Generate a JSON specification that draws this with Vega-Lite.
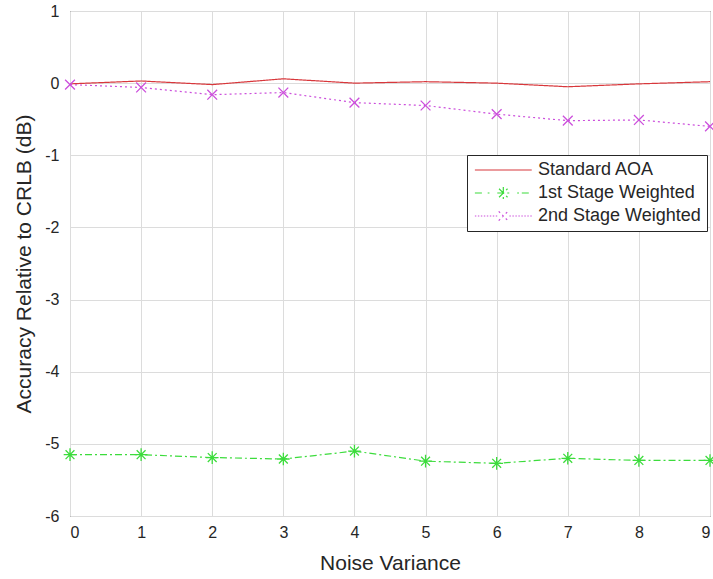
{
  "$schema": "https://vega.github.io/schema/vega-lite/v6.json",
  "width": 640,
  "height": 505,
  "autosize": {"type": "none"},
  "padding": {"left": 70, "top": 11, "right": 3, "bottom": 63},
  "background": "white",
  "config": {
    "font": "Liberation Sans",
    "view": {"stroke": "#262626", "strokeWidth": 1},
    "axis": {
      "domain": false,
      "gridColor": "#dcdcdc",
      "gridWidth": 1,
      "ticks": false,
      "labelColor": "#262626",
      "labelFontSize": 16,
      "titleColor": "#262626",
      "titleFontWeight": "normal",
      "labelExpr": "replace(datum.label, '−', '-')"
    },
    "legend": {
      "orient": "none",
      "legendX": 397,
      "legendY": 144,
      "symbolSize": 202,
      "symbolStrokeWidth": 1.2,
      "labelFontSize": 18,
      "labelColor": "#262626",
      "labelLimit": 300,
      "padding": 6,
      "rowPadding": 5,
      "labelOffset": 47,
      "fillColor": "white",
      "strokeColor": "#262626"
    }
  },
  "data": {
    "values": [
      {"x": 0, "y": -0.01, "series": "Standard AOA"},
      {"x": 1, "y": 0.03, "series": "Standard AOA"},
      {"x": 2, "y": -0.02, "series": "Standard AOA"},
      {"x": 3, "y": 0.06, "series": "Standard AOA"},
      {"x": 4, "y": 0.0, "series": "Standard AOA"},
      {"x": 5, "y": 0.02, "series": "Standard AOA"},
      {"x": 6, "y": 0.0, "series": "Standard AOA"},
      {"x": 7, "y": -0.05, "series": "Standard AOA"},
      {"x": 8, "y": -0.01, "series": "Standard AOA"},
      {"x": 9, "y": 0.02, "series": "Standard AOA"},
      {"x": 0, "y": -5.15, "series": "1st Stage Weighted"},
      {"x": 1, "y": -5.15, "series": "1st Stage Weighted"},
      {"x": 2, "y": -5.19, "series": "1st Stage Weighted"},
      {"x": 3, "y": -5.21, "series": "1st Stage Weighted"},
      {"x": 4, "y": -5.1, "series": "1st Stage Weighted"},
      {"x": 5, "y": -5.24, "series": "1st Stage Weighted"},
      {"x": 6, "y": -5.27, "series": "1st Stage Weighted"},
      {"x": 7, "y": -5.2, "series": "1st Stage Weighted"},
      {"x": 8, "y": -5.23, "series": "1st Stage Weighted"},
      {"x": 9, "y": -5.23, "series": "1st Stage Weighted"},
      {"x": 0, "y": -0.02, "series": "2nd Stage Weighted"},
      {"x": 1, "y": -0.06, "series": "2nd Stage Weighted"},
      {"x": 2, "y": -0.16, "series": "2nd Stage Weighted"},
      {"x": 3, "y": -0.13, "series": "2nd Stage Weighted"},
      {"x": 4, "y": -0.27, "series": "2nd Stage Weighted"},
      {"x": 5, "y": -0.31, "series": "2nd Stage Weighted"},
      {"x": 6, "y": -0.43, "series": "2nd Stage Weighted"},
      {"x": 7, "y": -0.52, "series": "2nd Stage Weighted"},
      {"x": 8, "y": -0.51, "series": "2nd Stage Weighted"},
      {"x": 9, "y": -0.6, "series": "2nd Stage Weighted"}
    ]
  },
  "encoding": {
    "x": {
      "field": "x", "type": "quantitative",
      "scale": {"domain": [0, 9], "nice": false, "zero": false},
      "axis": {"values": [0,1,2,3,4,5,6,7,8,9], "title": "Noise Variance", "labelPadding": 8, "titleFontSize": 21, "titlePadding": 12}
    },
    "y": {
      "field": "y", "type": "quantitative",
      "scale": {"domain": [-6, 1], "nice": false},
      "axis": {"values": [1,0,-1,-2,-3,-4,-5,-6], "title": "Accuracy Relative to CRLB (dB)", "labelPadding": 11, "titleFontSize": 21, "titlePadding": 10}
    }
  },
  "layer": [
    {
      "mark": {"type": "line", "strokeWidth": 1.2},
      "encoding": {
        "color": {
          "field": "series", "type": "nominal",
          "scale": {
            "domain": ["Standard AOA", "1st Stage Weighted", "2nd Stage Weighted"],
            "range": ["#d8383c", "#3cdc3c", "#cc4fdc"]
          },
          "legend": {"title": null}
        },
        "strokeDash": {
          "field": "series", "type": "nominal",
          "scale": {
            "domain": ["Standard AOA", "1st Stage Weighted", "2nd Stage Weighted"],
            "range": [[1, 0], [7, 3, 2, 3], [2, 3]]
          },
          "legend": null
        }
      }
    },
    {
      "transform": [{"filter": "datum.series === '1st Stage Weighted'"}],
      "mark": {"type": "point", "filled": false, "strokeWidth": 1.3, "size": 160, "opacity": 1,
        "shape": "M-1,0L1,0M0,-1L0,1M-0.7,-0.7L0.7,0.7M-0.7,0.7L0.7,-0.7"},
      "encoding": {
        "color": {"field": "series", "type": "nominal"}
      }
    },
    {
      "transform": [{"filter": "datum.series === '2nd Stage Weighted'"}],
      "mark": {"type": "point", "filled": false, "strokeWidth": 1.3, "size": 150, "opacity": 1,
        "shape": "M-0.8,-0.8L0.8,0.8M-0.8,0.8L0.8,-0.8"},
      "encoding": {
        "color": {"field": "series", "type": "nominal"}
      }
    },
    {
      "transform": [{"filter": "false"}],
      "mark": {"type": "point", "filled": false, "strokeWidth": 1.2, "opacity": 1},
      "encoding": {
        "color": {"field": "series", "type": "nominal"},
        "shape": {
          "field": "series", "type": "nominal",
          "scale": {
            "domain": ["Standard AOA", "1st Stage Weighted", "2nd Stage Weighted"],
            "range": [
              "M-1,0L7,0",
              "M-1,0L0.4,0M0.8,0L1.05,0M2.15,0L3.85,0M3,-0.85L3,0.85M2.4,-0.6L3.6,0.6M2.4,0.6L3.6,-0.6M4.95,0L5.2,0M5.6,0L7,0",
              "M-1,0L-0.8,0M-0.58,0L-0.38,0M-0.16,0L0.04,0M0.26,0L0.46,0M0.68,0L0.88,0M1.1,0L1.3,0M1.52,0L1.72,0M1.94,0L2.14,0M2.35,-0.65L3.65,0.65M2.35,0.65L3.65,-0.65M3.86,0L4.06,0M4.28,0L4.48,0M4.7,0L4.9,0M5.12,0L5.32,0M5.54,0L5.74,0M5.96,0L6.16,0M6.38,0L6.58,0M6.8,0L7,0"
            ]
          },
          "legend": {"title": null}
        }
      }
    }
  ]
}
